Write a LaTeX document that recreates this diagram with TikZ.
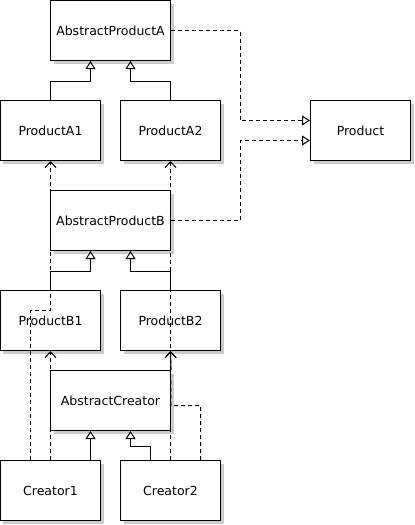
\documentclass[tikz,border=0pt]{standalone}
\usepackage{fontspec}
\setmainfont{DejaVu Sans}
\usetikzlibrary{arrows.meta,shadows}
\definecolor{shadowgray}{RGB}{204,204,204}
\tikzset{classbox/.style={draw=black,line width=1pt,fill=white,minimum height=60pt,minimum width=100pt,inner sep=0pt,
   font=\fontsize{12.5}{15}\selectfont,
   drop shadow={shadow xshift=3pt,shadow yshift=-3pt,fill=shadowgray,opacity=1}},
 wide/.style={minimum width=120pt},
 gen/.style={line width=1pt,-{Triangle[open,length=8pt,width=10pt]}},
 real/.style={gen,dash pattern=on 4pt off 3pt},
 dep/.style={line width=1pt,dash pattern=on 4pt off 3pt,-{Straight Barb[length=6pt,width=11pt]}},
 assoc/.style={line width=1pt,-{Straight Barb[length=6pt,width=11pt]}},
 every picture/.style={line join=miter}}

\begin{document}
\begin{tikzpicture}[x=1pt,y=-1pt]
\useasboundingbox (-0.5,-0.5) rectangle (414.5,524.5);
\node[classbox,wide] (apa) at (110,30) {AbstractProductA};
\node[classbox] (pa1) at (50,130) {ProductA1};
\node[classbox] (pa2) at (170,130) {ProductA2};
\node[classbox] (prod) at (360,130) {Product};
\node[classbox,wide] (apb) at (110,220) {AbstractProductB};
\node[classbox] (pb1) at (50,320) {ProductB1};
\node[classbox] (pb2) at (170,320) {ProductB2};
\node[classbox,wide] (ac) at (110,400) {AbstractCreator};
\node[classbox] (c1) at (50,490) {Creator1};
\node[classbox] (c2) at (170,490) {Creator2};
\draw[gen] (pa1.north) |- ([shift={(-20pt,-20pt)}]apa.south) -- ([xshift=-20pt]apa.south);
\draw[gen] (pa2.north) |- ([shift={(20pt,-20pt)}]apa.south) -- ([xshift=20pt]apa.south);
\draw[real] (apa.east) -| ([shift={(-70pt,10pt)}]prod.west) -- ([yshift=10pt]prod.west);
\draw[real] (apb.east) -| ([shift={(-70pt,-10pt)}]prod.west) -- ([yshift=-10pt]prod.west);
\draw[gen] (pb1.north) |- ([shift={(-20pt,-20pt)}]apb.south) -- ([xshift=-20pt]apb.south);
\draw[gen] (pb2.north) |- ([shift={(20pt,-20pt)}]apb.south) -- ([xshift=20pt]apb.south);
\draw[gen] ([xshift=40pt]c1.north) -- ([xshift=-20pt]ac.south);
\draw[gen] ([xshift=-20pt]c2.north) |- ([shift={(20pt,-15pt)}]ac.south) -- ([xshift=20pt]ac.south);
\draw[dep] ([xshift=-20pt]c1.north) |- ([yshift=-20pt]pb1.north) -- (pa1.south);
\draw[dep] (c1.north) -- (pb1.south);
\draw[dep] (c2.north) -- (pa2.south);
\draw[dep] ([xshift=30pt]c2.north) |- ([yshift=-5pt]ac.east) -- (pb2.south);
\draw[assoc] (ac.north east) -- (pb2.south);
\end{tikzpicture}
\end{document}
